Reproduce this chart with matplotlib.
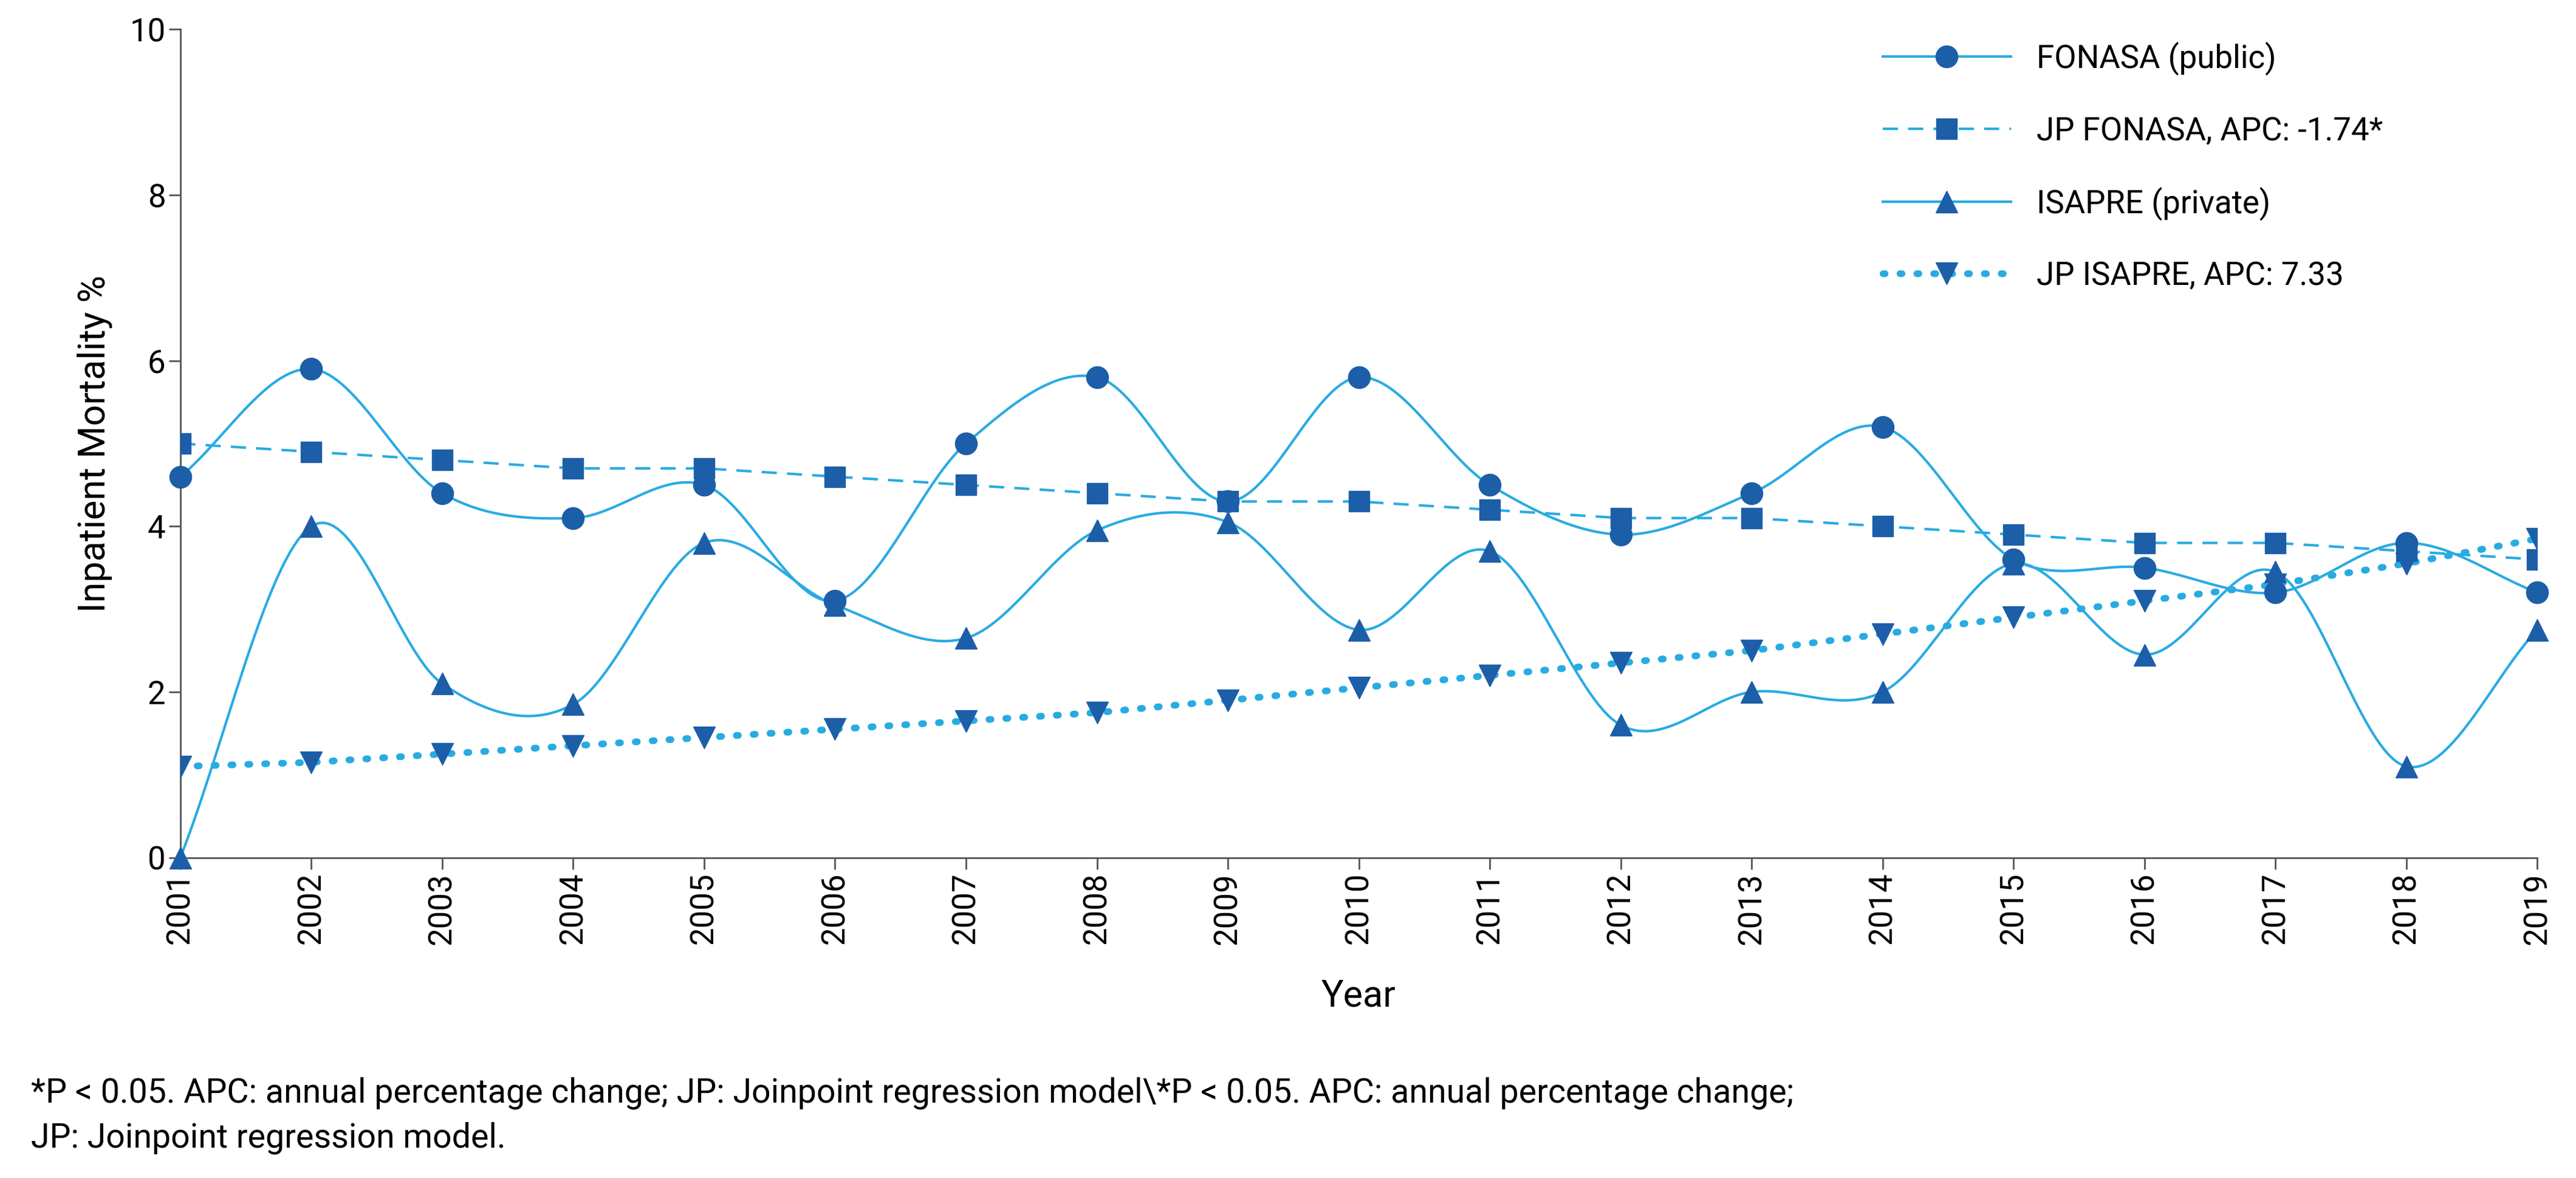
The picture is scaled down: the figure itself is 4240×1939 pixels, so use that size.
import numpy as np
import matplotlib
matplotlib.use("Agg")
import matplotlib.pyplot as plt
from matplotlib.lines import Line2D

plt.rcParams["font.family"] = ["Roboto", "DejaVu Sans"]

years = list(range(2001, 2020))
fonasa = [4.6, 5.9, 4.4, 4.1, 4.5, 3.1, 5.0, 5.8, 4.3, 5.8, 4.5, 3.9, 4.4, 5.2, 3.6, 3.5, 3.2, 3.8, 3.2]
jp_fonasa = [5.0, 4.9, 4.8, 4.7, 4.7, 4.6, 4.5, 4.4, 4.3, 4.3, 4.2, 4.1, 4.1, 4.0, 3.9, 3.8, 3.8, 3.7, 3.6]
isapre = [0.0, 4.0, 2.1, 1.85, 3.8, 3.05, 2.65, 3.95, 4.05, 2.75, 3.7, 1.6, 2.0, 2.0, 3.55, 2.45, 3.45, 1.1, 2.75]
jp_isapre = [1.1, 1.15, 1.25, 1.35, 1.45, 1.55, 1.65, 1.75, 1.9, 2.05, 2.2, 2.35, 2.5, 2.7, 2.9, 3.1, 3.3, 3.55, 3.85]

LINE = "#29abe2"
MARK = "#1c5ea8"


def smooth(x, y, n=30):
    # Catmull-Rom curve through the points
    x = np.asarray(x, float); y = np.asarray(y, float)
    px = np.concatenate([[2 * x[0] - x[1]], x, [2 * x[-1] - x[-2]]])
    py = np.concatenate([[2 * y[0] - y[1]], y, [2 * y[-1] - y[-2]]])
    xs, ys = [], []
    t = np.linspace(0, 1, n, endpoint=False)
    for i in range(1, len(px) - 2):
        for p, out in ((px, xs), (py, ys)):
            p0, p1, p2, p3 = p[i - 1], p[i], p[i + 1], p[i + 2]
            out.extend(0.5 * (2 * p1 + (-p0 + p2) * t + (2 * p0 - 5 * p1 + 4 * p2 - p3) * t ** 2
                              + (-p0 + 3 * p1 - 3 * p2 + p3) * t ** 3))
    xs.append(x[-1]); ys.append(y[-1])
    return np.array(xs), np.array(ys)


fig = plt.figure(figsize=(42.4, 19.39), dpi=100)
ax = fig.add_axes([0.07, 0.272, 0.915, 0.703])

ms = 26
for data, mk in ((fonasa, "o"), (isapre, "^")):
    sx, sy = smooth(years, data)
    ax.plot(sx, sy, color=LINE, lw=3)
    ax.plot(years, data, mk, color=MARK, ms=ms, ls="none", clip_on=False, zorder=5)
ax.plot(years, jp_fonasa, color=LINE, lw=3, ls=(0, (6, 4)))
ax.plot(years, jp_fonasa, "s", color=MARK, ms=ms - 2, ls="none", zorder=5)
ax.plot(years, jp_isapre, color=LINE, lw=8, ls=(0, (0.3, 2.2)), dash_capstyle="round")
ax.plot(years, jp_isapre, "v", color=MARK, ms=ms, ls="none", zorder=5)

ax.set_xlim(2001, 2019)
ax.set_ylim(0, 10)
ax.set_xticks(years)
ax.set_xticklabels([str(y) for y in years], rotation=90)
ax.set_yticks([0, 2, 4, 6, 8, 10])
ax.tick_params(labelsize=38, length=14, width=2, color="#555555")
for s in ("top", "right"):
    ax.spines[s].set_visible(False)
for s in ("left", "bottom"):
    ax.spines[s].set_linewidth(2)
    ax.spines[s].set_color("#555555")
ax.set_xlabel("Year", fontsize=44, labelpad=40)
ax.set_ylabel("Inpatient Mortality %", fontsize=44, labelpad=20)

handles = [
    Line2D([], [], color=LINE, lw=3, marker="o", mfc=MARK, mec=MARK, ms=ms),
    Line2D([], [], color=LINE, lw=3, ls=(0, (6, 4)), marker="s", mfc=MARK, mec=MARK, ms=ms - 2),
    Line2D([], [], color=LINE, lw=3, marker="^", mfc=MARK, mec=MARK, ms=ms),
    Line2D([], [], color=LINE, lw=8, ls=(0, (0.3, 2.2)), dash_capstyle="round",
           marker="v", mfc=MARK, mec=MARK, ms=ms),
]
labels = ["FONASA (public)", "JP FONASA, APC: -1.74*", "ISAPRE (private)", "JP ISAPRE, APC: 7.33"]
ax.legend(handles, labels, loc="upper left", bbox_to_anchor=(0.71, 1.02), frameon=False,
          fontsize=38, handlelength=4, labelspacing=1.25)

fig.text(0.012, 0.02, "*P < 0.05. APC: annual percentage change; JP: Joinpoint regression model\\*P < 0.05. "
         "APC: annual percentage change;\nJP: Joinpoint regression model.",
         fontsize=40, va="bottom", linespacing=1.5)

fig.savefig("out.png", dpi=100)
